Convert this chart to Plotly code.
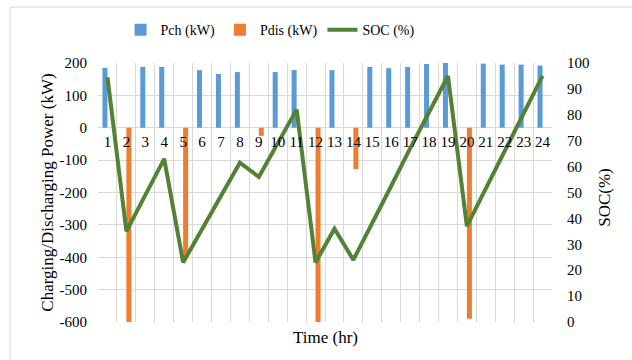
import plotly.graph_objects as go

# Hourly battery schedule
hours = list(range(1, 25))
p_charge = [185, 0, 188, 188, 0, 178, 166, 172, 0, 172, 178, 0,
            178, 0, 188, 184, 188, 197, 200, 0, 198, 195, 195, 192]
p_discharge = [0, -600, 0, 0, -400, 0, 0, 0, -25, 0, 0, -600,
               0, -128, 0, 0, 0, 0, 0, -590, 0, 0, 0, 0]
soc = [94.5, 35, 49, 63, 23, 36, 49, 61.5, 56, 69, 82, 23,
       36, 24, 38, 52.5, 67, 81, 95, 37, 51.5, 66, 81, 95]

power_ticks = [200, 100, 0, -100, -200, -300, -400, -500, -600]
power_labels = [str(v) for v in power_ticks]  # plain hyphen for negatives
soc_ticks = list(range(0, 101, 10))

BLUE = "#5B9BD5"
ORANGE = "#ED7D31"
GREEN = "#548235"
GRID = "#D9D9D9"
FONT = "Liberation Serif"

fig = go.Figure()
fig.add_trace(go.Bar(x=hours, y=p_charge, name="Pch (kW)", marker_color=BLUE,
                     marker_line_width=0))
fig.add_trace(go.Bar(x=hours, y=p_discharge, name="Pdis (kW)", marker_color=ORANGE,
                     marker_line_width=0))
fig.add_trace(go.Scatter(x=hours, y=soc, name="SOC (%)", mode="lines",
                         line=dict(color=GREEN, width=4), yaxis="y2"))

fig.update_layout(
    width=632, height=360,
    margin=dict(l=98, r=80, t=63, b=38),
    paper_bgcolor="white", plot_bgcolor="white",
    font=dict(family=FONT, size=15, color="#000000"),
    barmode="group", bargap=0.47, bargroupgap=0,
    showlegend=True,
    legend=dict(orientation="h", x=0.379, xanchor="center", y=1.127, yanchor="middle",
                font=dict(size=14), itemwidth=30, traceorder="normal"),
    xaxis=dict(
        range=[0.5, 24.5], tickmode="linear", tick0=1, dtick=1,
        showgrid=False, zeroline=False, showline=False, ticks="",
        anchor="free", position=0.75, ticklabelstandoff=3,
        minor=dict(tick0=0.5, dtick=1, showgrid=True, gridcolor=GRID, gridwidth=1, ticks=""),
        tickfont=dict(size=15),
    ),
    yaxis=dict(
        range=[-600, 200], tickvals=power_ticks, ticktext=power_labels,
        showgrid=True, gridcolor=GRID,
        gridwidth=1, zeroline=True, zerolinecolor=GRID, zerolinewidth=1,
        showline=False, ticks="", ticklabelstandoff=10, tickfont=dict(size=15),
    ),
    yaxis2=dict(
        range=[0, 100], tickvals=soc_ticks, overlaying="y", side="right",
        showgrid=False, zeroline=False, showline=False, ticks="",
        ticklabelstandoff=14, tickfont=dict(size=15),
    ),
    annotations=[
        dict(text="Charging/Discharging Power (kW)", xref="paper", yref="paper",
             x=-0.112, y=0.5, textangle=-90, showarrow=False,
             font=dict(size=17), xanchor="center", yanchor="middle"),
        dict(text="SOC(%)", xref="paper", yref="paper", x=1.117, y=0.48,
             textangle=-90, showarrow=False, font=dict(size=17),
             xanchor="center", yanchor="middle"),
        dict(text="Time (hr)", xref="paper", yref="paper", x=0.5, y=-0.058,
             showarrow=False, font=dict(size=17), xanchor="center", yanchor="middle"),
    ],
    shapes=[
        dict(type="rect", xref="paper", yref="paper", x0=-0.1938, x1=1.25,
             y0=-0.2, y1=1.216, line=dict(color="#D9D9D9", width=1),
             fillcolor="rgba(0,0,0,0)", layer="below"),
    ],
)

fig.write_html("out.html")
